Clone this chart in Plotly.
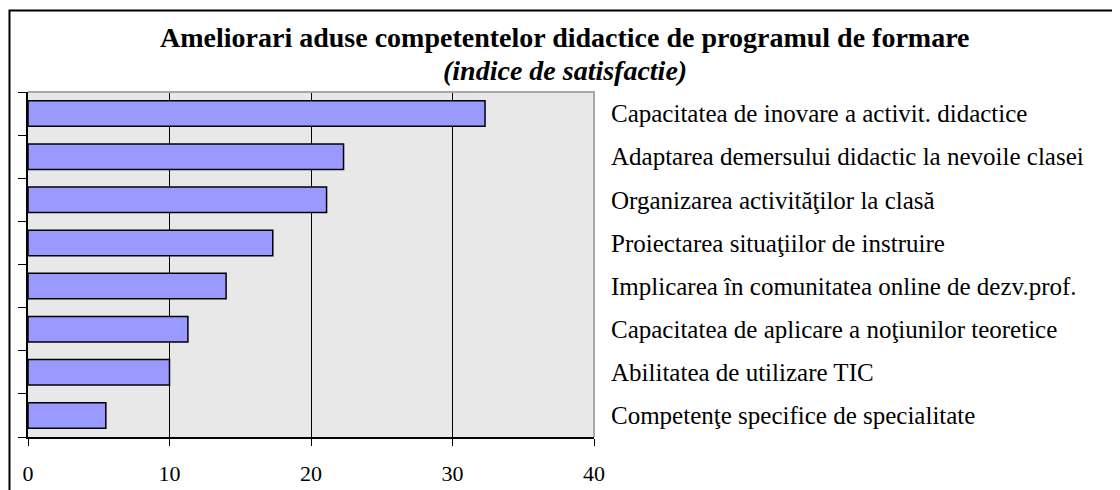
import plotly.graph_objects as go

categories = [
    "Capacitatea de inovare a activit. didactice",
    "Adaptarea demersului didactic la nevoile clasei",
    "Organizarea activităţilor la clasă",
    "Proiectarea situaţiilor de instruire",
    "Implicarea în comunitatea online de dezv.prof.",
    "Capacitatea de aplicare a noţiunilor teoretice",
    "Abilitatea de utilizare TIC",
    "Competenţe specifice de specialitate",
]
values = [32.3, 22.3, 21.1, 17.3, 14.0, 11.3, 10.0, 5.5]
x_ticks = [0, 10, 20, 30, 40]
title = "Ameliorari aduse competentelor didactice de programul de formare"
subtitle = "(indice de satisfactie)"

positions = list(range(len(categories)))
boundaries = [p - 0.5 for p in positions] + [len(categories) - 0.5]
FONT = "Liberation Serif, Times New Roman, serif"

fig = go.Figure()
fig.add_trace(go.Bar(
    x=values, y=positions, orientation="h", width=0.59,
    marker=dict(color="#9999FF", line=dict(color="black", width=1.5)),
    showlegend=False, hoverinfo="x",
))
fig.add_trace(go.Scatter(
    x=[None], y=[None], yaxis="y2", showlegend=False, hoverinfo="skip",
))

yrange = [len(categories) - 0.5, -0.5]
fig.update_layout(
    width=1112, height=482,
    margin=dict(l=20, r=526, t=84, b=53, autoexpand=False),
    paper_bgcolor="white", plot_bgcolor="#E8E8E8",
    font=dict(family=FONT, color="black"),
    xaxis=dict(
        range=[0, 40], tickvals=x_ticks, ticks="outside", ticklen=7,
        tickcolor="black", tickwidth=1, showline=True, linecolor="black",
        linewidth=1.5, showgrid=True, gridcolor="black", gridwidth=1,
        zeroline=False, tickfont=dict(size=22, family=FONT),
        ticklabelstandoff=9, fixedrange=True, automargin=False,
    ),
    yaxis=dict(
        range=yrange, tickvals=boundaries, ticks="outside", ticklen=8,
        tickcolor="black", tickwidth=1, showticklabels=False, showline=True,
        linecolor="black", linewidth=1.5, showgrid=False, zeroline=False,
        fixedrange=True, automargin=False,
    ),
    yaxis2=dict(
        overlaying="y", side="right", range=yrange, tickvals=positions,
        ticktext=categories, ticks="", showline=False, showgrid=False,
        zeroline=False, tickfont=dict(size=25, family=FONT),
        ticklabelstandoff=16, fixedrange=True, automargin=False,
    ),
    shapes=[
        dict(type="path", xref="paper", yref="paper", path="M 0,1 L 1,1 L 1,0",
             line=dict(color="#A8A8A8", width=2), layer="above"),
        dict(type="rect", xref="paper", yref="paper",
             x0=-0.0327, x1=2.0, y0=-0.3, y1=1.236,
             line=dict(color="black", width=2), layer="above"),
    ],
    annotations=[
        dict(text="<b>" + title + "</b>", xref="paper", yref="paper",
             x=0.949, y=1.159, showarrow=False, xanchor="center",
             yanchor="middle", font=dict(size=28, family=FONT)),
        dict(text="<b><i>" + subtitle + "</i></b>", xref="paper", yref="paper",
             x=0.949, y=1.062, showarrow=False, xanchor="center",
             yanchor="middle", font=dict(size=28, family=FONT)),
    ],
)

fig.write_html("out.html")
